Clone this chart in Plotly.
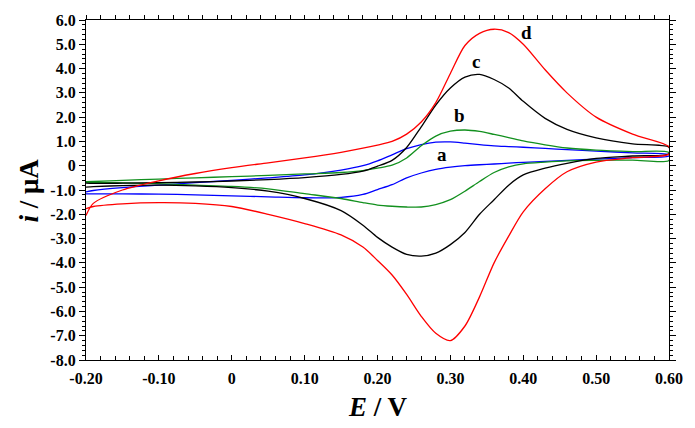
import plotly.graph_objects as go

# Potential grid (V) shared by all branches
E = [-0.20, -0.19, -0.15, -0.10, -0.05, 0.00, 0.05, 0.10, 0.15, 0.18, 0.20, 0.22, 0.24,
     0.26, 0.28, 0.30, 0.32, 0.34, 0.36, 0.38, 0.40, 0.43, 0.46, 0.50, 0.55, 0.60]

# Anodic (forward) branches, current in µA at each E
a_fwd = [-1.08, -1.02, -0.90, -0.80, -0.70, -0.60, -0.50, -0.38, -0.18, 0.00, 0.20, 0.45, 0.70,
         0.87, 0.97, 0.98, 0.93, 0.87, 0.82, 0.79, 0.76, 0.71, 0.66, 0.60, 0.53, 0.46]
b_fwd = [-0.66, -0.65, -0.60, -0.55, -0.50, -0.45, -0.40, -0.34, -0.28, -0.20, -0.10, 0.02, 0.32,
         0.82, 1.22, 1.42, 1.47, 1.41, 1.29, 1.16, 1.02, 0.86, 0.73, 0.64, 0.58, 0.54]
c_fwd = [-0.72, -0.73, -0.72, -0.70, -0.67, -0.63, -0.57, -0.49, -0.36, -0.22, -0.02, 0.22, 0.75,
         1.60, 2.50, 3.20, 3.65, 3.76, 3.55, 3.20, 2.65, 1.95, 1.50, 1.15, 0.90, 0.76]
d_fwd = [-2.05, -1.55, -1.00, -0.62, -0.32, -0.08, 0.12, 0.32, 0.55, 0.72, 0.85, 1.00, 1.30,
         1.80, 2.60, 3.80, 4.95, 5.45, 5.62, 5.48, 5.00, 3.95, 3.00, 2.00, 1.30, 0.78]

# Cathodic (reverse) branches, current in µA at each E
a_rev = [-1.16, -1.16, -1.16, -1.17, -1.20, -1.24, -1.28, -1.32, -1.30, -1.18, -0.98, -0.78, -0.50,
         -0.30, -0.15, -0.06, 0.00, 0.04, 0.07, 0.11, 0.14, 0.18, 0.22, 0.27, 0.33, 0.40]
b_rev = [-0.68, -0.69, -0.71, -0.74, -0.80, -0.85, -0.95, -1.15, -1.35, -1.52, -1.62, -1.67, -1.70,
         -1.70, -1.60, -1.40, -1.05, -0.65, -0.28, -0.05, 0.08, 0.15, 0.20, 0.22, 0.23, 0.22]
c_rev = [-0.88, -0.86, -0.82, -0.80, -0.83, -0.90, -1.05, -1.35, -1.85, -2.45, -2.95, -3.35, -3.65,
         -3.72, -3.60, -3.25, -2.75, -2.00, -1.40, -0.80, -0.38, -0.10, 0.10, 0.30, 0.40, 0.50]
d_rev = [-1.77, -1.68, -1.57, -1.52, -1.55, -1.68, -2.00, -2.38, -2.85, -3.35, -3.90, -4.50, -5.30,
         -6.20, -6.90, -7.20, -6.60, -5.40, -4.00, -2.90, -1.90, -0.95, -0.25, 0.15, 0.33, 0.48]

series = [("a", a_fwd, a_rev, "#0000ff"),
          ("b", b_fwd, b_rev, "#12901e"),
          ("c", c_fwd, c_rev, "#000000"),
          ("d", d_fwd, d_rev, "#ff0000")]

curve_labels = ["a", "b", "c", "d"]
label_E = [0.288, 0.312, 0.335, 0.405]
label_i = [0.45, 2.05, 4.3, 5.5]

x_tickvals = [-0.2, -0.1, 0.0, 0.1, 0.2, 0.3, 0.4, 0.5, 0.6]
x_ticktext = ["-0.20", "-0.10", "0", "0.10", "0.20", "0.30", "0.40", "0.50", "0.60"]
y_tickvals = [6, 5, 4, 3, 2, 1, 0, -1, -2, -3, -4, -5, -6, -7, -8]
y_ticktext = ["6.0", "5.0", "4.0", "3.0", "2.0", "1.0", "0", "-1.0", "-2.0", "-3.0",
              "-4.0", "-5.0", "-6.0", "-7.0", "-8.0"]

fig = go.Figure()
for name, fwd, rev, col in series:
    fig.add_trace(go.Scatter(
        x=E + E[::-1], y=fwd + rev[::-1], mode="lines", name=name,
        line=dict(color=col, width=1.3, shape="spline", smoothing=0.8),
        showlegend=False, hoverinfo="skip"))

# empty traces to activate mirrored top/right axes
fig.add_trace(go.Scatter(x=[], y=[], xaxis="x2", yaxis="y2", showlegend=False))

serif = "Liberation Serif, Times New Roman, serif"
tfont = dict(family=serif, size=16, color="black", weight="bold")

for lab, ex, iy in zip(curve_labels, label_E, label_i):
    fig.add_annotation(x=ex, y=iy, text=f"<b>{lab}</b>", showarrow=False,
                       font=dict(family=serif, size=19, color="black"))

fig.add_annotation(xref="paper", yref="paper", x=-0.097, y=0.5, text="<b><i>i</i> / μA</b>",
                   textangle=-90, showarrow=False, xanchor="center", yanchor="middle",
                   font=dict(family=serif, size=27, color="black"))
fig.add_annotation(xref="paper", yref="paper", x=0.5, y=-0.139, text="<b><i>E</i> / V</b>",
                   showarrow=False, xanchor="center", yanchor="middle",
                   font=dict(family=serif, size=27, color="black"))

fig.update_layout(
    width=695, height=428,
    margin=dict(l=86, r=24, t=15, b=68),
    paper_bgcolor="white", plot_bgcolor="white",
    xaxis=dict(range=[-0.2, 0.6], tickvals=x_tickvals, ticktext=x_ticktext,
               ticks="inside", ticklen=5, tickwidth=1, tickcolor="black",
               showline=True, linecolor="black", linewidth=1.3, showgrid=False,
               zeroline=False, tickfont=tfont, ticklabelstandoff=4,
               minor=dict(dtick=0.02, ticks="inside", ticklen=4, tickcolor="black", showgrid=False)),
    yaxis=dict(range=[-8, 6], tickvals=y_tickvals, ticktext=y_ticktext,
               ticks="outside", ticklen=6, tickwidth=1, tickcolor="black",
               showline=True, linecolor="black", linewidth=1.3, showgrid=False,
               zeroline=False, tickfont=tfont,
               minor=dict(dtick=0.2, ticks="outside", ticklen=3, tickcolor="black", showgrid=False)),
    xaxis2=dict(range=[-0.2, 0.6], overlaying="x", side="top", anchor="y2",
                showticklabels=False, dtick=0.1, tick0=-0.2,
                ticks="outside", ticklen=4, tickcolor="black",
                showline=True, linecolor="black", linewidth=1.3, showgrid=False, zeroline=False,
                minor=dict(dtick=0.02, ticks="outside", ticklen=4, tickcolor="black", showgrid=False)),
    yaxis2=dict(range=[-8, 6], overlaying="y", side="right", anchor="x2",
                showticklabels=False, dtick=1,
                ticks="outside", ticklen=6, tickcolor="black",
                showline=True, linecolor="black", linewidth=1.3, showgrid=False, zeroline=False,
                minor=dict(dtick=0.2, ticks="outside", ticklen=3, tickcolor="black", showgrid=False)),
)

fig.write_html("out.html", config={"displayModeBar": False},
               post_script="document.body.style.margin='0';document.body.style.overflow='hidden';")
